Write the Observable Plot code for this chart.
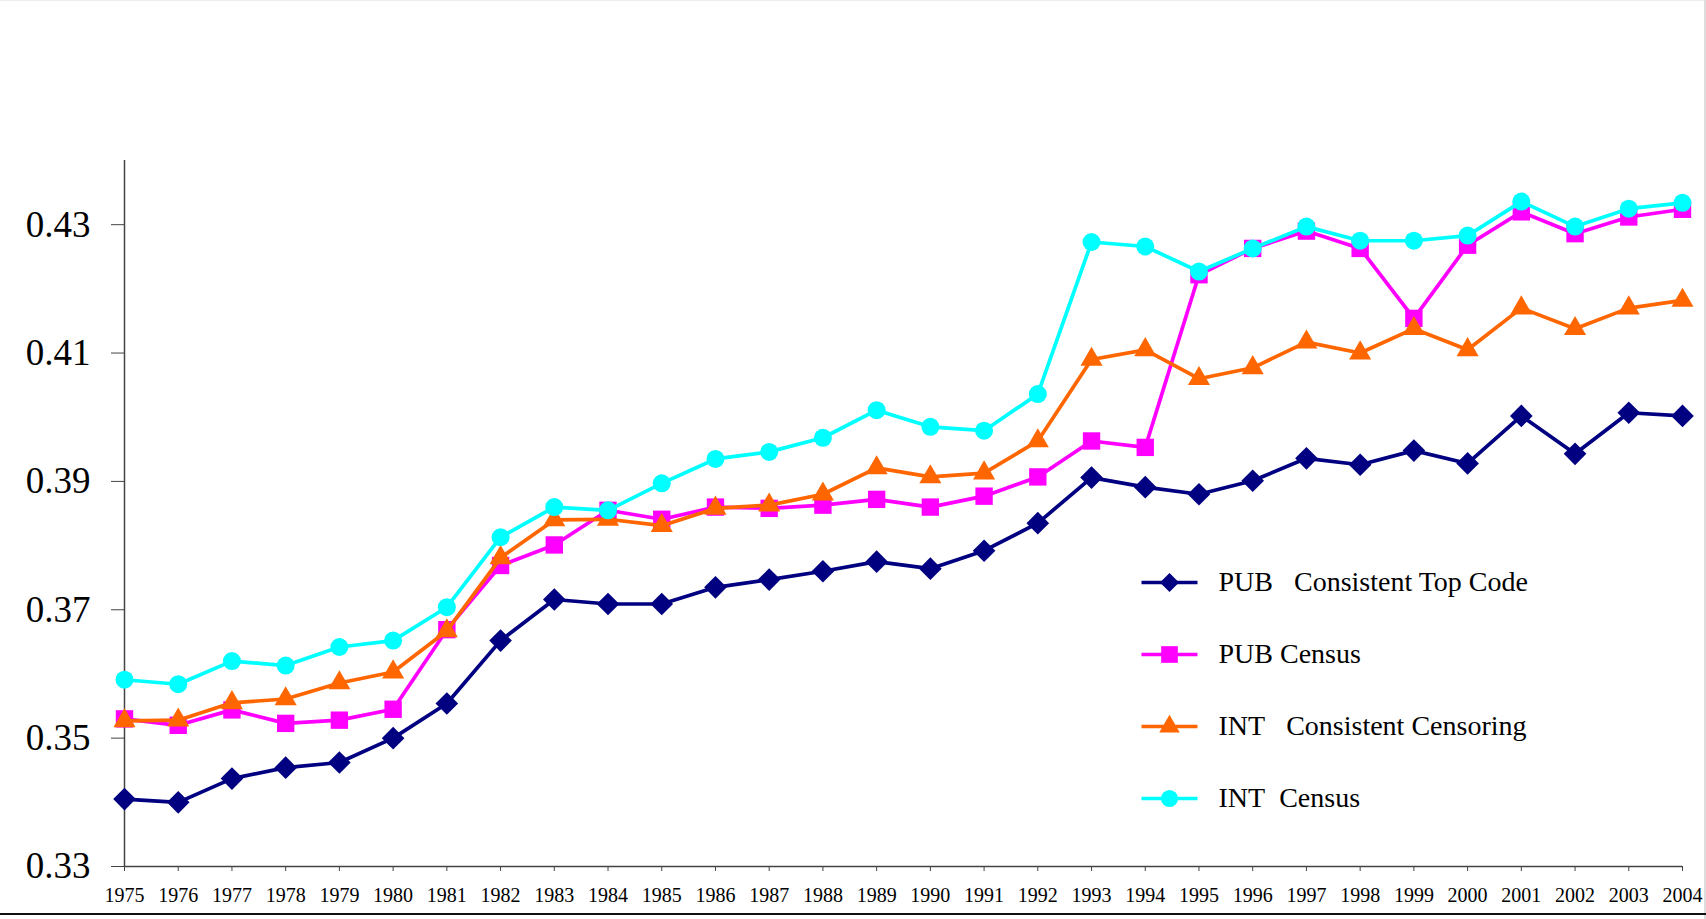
<!DOCTYPE html>
<html>
<head>
<meta charset="utf-8">
<script src="https://cdn.jsdelivr.net/npm/d3@7"></script>
<script src="https://cdn.jsdelivr.net/npm/@observablehq/plot@0.6"></script>
<style>
html, body { margin: 0; padding: 0; background: #fff; }
#wrap { position: relative; width: 1706px; height: 919px; overflow: hidden; background: #fff; font-family: "Liberation Serif", "Times New Roman", serif; }
#chart svg, #legend svg { display: block; }
#chart { position: absolute; left: 0; top: 0; }
#legend { position: absolute; left: 1130px; top: 540px; }
.edge { position: absolute; }
</style>
</head>
<body>
<div id="wrap">
  <div id="chart"></div>
  <div id="legend"></div>
  <div class="edge" style="left:0;top:0;width:1706px;height:1px;background:#ececec"></div>
  <div class="edge" style="left:1704px;top:0;width:2px;height:919px;background:#dddddd"></div>
  <div class="edge" style="left:0;top:913px;width:1706px;height:2px;background:#111"></div>
</div>
<script>
// ---- data ----
const years = [1975,1976,1977,1978,1979,1980,1981,1982,1983,1984,1985,1986,1987,1988,1989,
               1990,1991,1992,1993,1994,1995,1996,1997,1998,1999,2000,2001,2002,2003,2004];

const seriesNames = ["PUB\u00A0\u00A0 Consistent Top Code", "PUB Census",
                     "INT\u00A0\u00A0 Consistent Censoring", "INT\u00A0 Census"];

const pubTopCode = [0.3405,0.3400,0.3437,0.3454,0.3462,0.3500,0.3554,0.3652,0.3716,0.3709,
                    0.3709,0.3735,0.3747,0.3760,0.3775,0.3764,0.3792,0.3835,0.3906,0.3891,
                    0.3880,0.3901,0.3936,0.3926,0.3948,0.3928,0.4002,0.3943,0.4007,0.4002];

const pubCensus  = [0.3530,0.3520,0.3544,0.3523,0.3528,0.3545,0.3669,0.3769,0.3801,0.3855,
                    0.3841,0.3860,0.3858,0.3863,0.3872,0.3860,0.3877,0.3907,0.3963,0.3953,
                    0.4222,0.4263,0.4290,0.4263,0.4154,0.4268,0.4320,0.4286,0.4312,0.4324];

const intCensoring = [0.3527,0.3528,0.3555,0.3561,0.3586,0.3603,0.3667,0.3781,0.3840,0.3841,
                      0.3831,0.3858,0.3863,0.3880,0.3921,0.3907,0.3913,0.3963,0.4090,0.4105,
                      0.4060,0.4077,0.4117,0.4100,0.4138,0.4105,0.4170,0.4138,0.4170,0.4182];

const intCensus  = [0.3591,0.3584,0.3620,0.3613,0.3642,0.3652,0.3704,0.3813,0.3860,0.3855,
                    0.3897,0.3935,0.3946,0.3968,0.4011,0.3985,0.3979,0.4036,0.4273,0.4266,
                    0.4227,0.4263,0.4297,0.4275,0.4275,0.4283,0.4336,0.4297,0.4325,0.4334];

const yTicks = [0.33, 0.35, 0.37, 0.39, 0.41, 0.43];

// ---- styling ----
const seriesValues = [pubTopCode, pubCensus, intCensoring, intCensus];
const seriesColors = ["#000080", "#ff00ff", "#ff6600", "#00ffff"];
const seriesSymbols = ["diamond2", "square", "triangle", "circle"];
const seriesRadii = [10.2, 9.8, 8.2, 9];
const legendRadii = [8.6, 9.4, 7.6, 8.6];

const series = seriesNames.map((name, k) => ({
  name, values: seriesValues[k], color: seriesColors[k], symbol: seriesSymbols[k],
  r: seriesRadii[k], lr: legendRadii[k]
}));

const rows = series.flatMap(s => years.map((yr, i) => ({series: s.name, year: yr, value: s.values[i]})));

const font = "'Liberation Serif', 'Times New Roman', serif";

const marks = [
  Plot.ruleX([1975], {stroke: "#444", strokeWidth: 1.5}),
  Plot.ruleY([0.33], {stroke: "#444", strokeWidth: 1.5}),
  Plot.axisY({ticks: yTicks, tickSize: 13, tickPadding: 21, fontSize: 37, label: null,
              tickFormat: d => d.toFixed(2), stroke: "#444", fill: "#000"}),
  Plot.axisX({ticks: years, tickSize: 5, tickPadding: 16, fontSize: 20, label: null,
              tickFormat: d => String(d), stroke: "#444", fill: "#000"})
];
for (const s of series) {
  const f = d => d.series === s.name;
  marks.push(Plot.line(rows, {filter: f, x: "year", y: "value", stroke: s.color, strokeWidth: 3.7}));
  marks.push(Plot.dot(rows, {filter: f, x: "year", y: "value", symbol: s.symbol, fill: s.color, stroke: "none", r: s.r}));
}

const chart = Plot.plot({
  width: 1706,
  height: 919,
  marginLeft: 124,
  marginRight: 24,
  marginTop: 160,
  marginBottom: 53,
  x: {type: "linear", domain: [1975, 2004], axis: null, label: null},
  y: {type: "linear", domain: [0.33, 0.44], axis: null, label: null},
  style: {fontFamily: font, background: "transparent", color: "#000"},
  marks
});
document.getElementById("chart").append(chart);

// ---- legend ----
const legendMarks = [];
for (const s of series) {
  legendMarks.push(Plot.link([s], {x1: 0, x2: 1, y1: d => d.name, y2: d => d.name, stroke: s.color, strokeWidth: 3.5}));
  legendMarks.push(Plot.dot([s], {x: 0.5, y: d => d.name, symbol: s.symbol, fill: s.color, stroke: "none", r: s.lr}));
}
legendMarks.push(Plot.text(series, {x: 1, y: d => d.name, text: d => d.name, dx: 21,
  textAnchor: "start", fontSize: 28, fill: "#000"}));

const legend = Plot.plot({
  width: 520,
  height: 290,
  margin: 0,
  x: {type: "linear", domain: [0, 1], range: [11, 67], axis: null},
  y: {type: "point", domain: seriesNames, range: [41, 258], padding: 0, axis: null},
  style: {fontFamily: font, background: "transparent", overflow: "visible"},
  marks: legendMarks
});
document.getElementById("legend").append(legend);
</script>
</body>
</html>
